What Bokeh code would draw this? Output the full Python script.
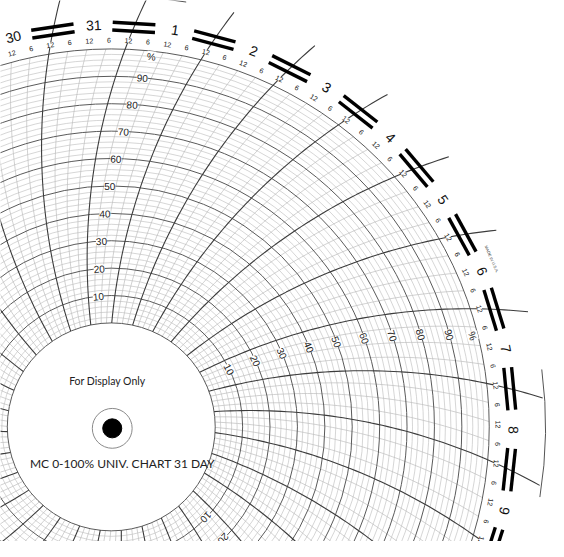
import numpy as np

from bokeh.plotting import figure
from bokeh.models import Range1d
from bokeh.core.properties import value
from bokeh.embed import file_html
from bokeh.resources import INLINE

# chart paper data
days = [31] + list(range(1, 31))          # clockwise from the top
hour_labels = ["12", "6", "12", "6"]       # midnight, 6, noon, 6
percent_ticks = [10, 20, 30, 40, 50, 60, 70, 80, 90]
scale_days = [31, 6, 12, 18, 24]           # days that carry a % scale
minor_pct = [p for p in range(2, 100, 2) if p % 10]
major_pct = list(range(0, 101, 10))

# geometry of the paper (reference pixels, centre of chart = 0,0)
R0, R100, ARM = 107.0, 389.0, 615.0
STEP = 360.0 / (len(days) * 4)
NOON0 = 87.9                              # angle of day-31 noon line at 100%
X0, X1, Y0, Y1 = -114, 450, -118, 439


def rad(p):
    return R0 + p / 100.0 * (R100 - R0)


def theta(r, th_out):
    # time lines are arcs swung by the pen arm
    return th_out + np.degrees(np.arccos(r / (2 * ARM)) - np.arccos(R100 / (2 * ARM)))


def pos_angle(j):
    return NOON0 - (j - 2) * STEP


p = figure(width=548, height=541, x_range=Range1d(X0, X1), y_range=Range1d(Y0, Y1),
           output_backend="svg", toolbar_location=None, min_border=0)
p.axis.visible = False
p.grid.visible = False
p.outline_line_color = None

# circles
p.circle(x=[0] * len(minor_pct), y=[0] * len(minor_pct), radius=[rad(v) for v in minor_pct],
         fill_color=None, line_color="#c4c4c4", line_width=0.7)

# time lines
lx, ly, dx, dy = [], [], [], []
for j in range(len(days) * 4):
    th_out = pos_angle(j)
    if j % 4 == 2:
        rr = np.linspace(R0, 445, 60)
    else:
        rr = np.linspace(R0, R100, 50)
    th = np.radians(theta(rr, th_out))
    if j % 4 == 2:
        dx.append(list(rr * np.cos(th)))
        dy.append(list(rr * np.sin(th)))
    else:
        lx.append(list(rr * np.cos(th)))
        ly.append(list(rr * np.sin(th)))
p.multi_line(lx, ly, line_color="#bdbdbd", line_width=0.7)

p.circle(x=[0] * len(major_pct), y=[0] * len(major_pct), radius=[rad(v) for v in major_pct],
         fill_color=None, line_color="#5a5a5a", line_width=1)
p.multi_line(dx, dy, line_color="#3c3c3c", line_width=1.1)

# outer guide arcs
p.arc(x=0, y=0, radius=444, start_angle=np.radians(80.0), end_angle=np.radians(97.2),
      line_color="#555555", line_width=1)
p.arc(x=0, y=0, radius=447, start_angle=np.radians(-9.3), end_angle=np.radians(7.6),
      line_color="#555555", line_width=1)

# double bars at every noon
bx0, by0, bx1, by1 = [], [], [], []
for d in range(len(days)):
    thc = np.radians(theta(412.0, pos_angle(d * 4 + 2)))
    tx, ty = -np.sin(thc) * 22, np.cos(thc) * 22
    for rr in (408.0, 416.0):
        cx, cy = rr * np.cos(thc), rr * np.sin(thc)
        bx0.append(cx - tx)
        by0.append(cy - ty)
        bx1.append(cx + tx)
        by1.append(cy + ty)
p.segment(bx0, by0, bx1, by1, line_color="black", line_width=3.4)

# hour labels round the rim
hx, hy, ha, ht = [], [], [], []
for j in range(len(days) * 4):
    th = theta(398.0, pos_angle(j))
    hx.append(398 * np.cos(np.radians(th)))
    hy.append(398 * np.sin(np.radians(th)))
    ha.append(np.radians(th - 90))
    ht.append(hour_labels[j % 4])
p.text(hx, hy, text=ht, angle=ha, text_align="center", text_baseline="middle",
       text_font=value("Liberation Sans"), text_font_size="7px", text_color="#111111",
       background_fill_color="white")

# day numbers
nx, ny, na = [], [], []
for d in range(len(days)):
    th = theta(414.0, pos_angle(d * 4))
    nx.append(414 * np.cos(np.radians(th)))
    ny.append(414 * np.sin(np.radians(th)))
    na.append(np.radians(th - 90))
p.text(nx, ny, text=[str(v) for v in days], angle=na, text_align="center",
       text_baseline="middle", text_font=value("Liberation Sans"), text_font_size="14px",
       text_color="#111111")

# percent scales
sx, sy, sa, st = [], [], [], []
for dd in scale_days:
    th_out = pos_angle(days.index(dd) * 4 + 2) - 1.5 * STEP
    for v in percent_ticks + [98]:
        rr = rad(v)
        th = theta(rr, th_out)
        sx.append(rr * np.cos(np.radians(th)))
        sy.append(rr * np.sin(np.radians(th)))
        sa.append(np.radians(th - 90))
        st.append(str(v) if v < 98 else "%")
p.text(sx, sy, text=st, angle=sa, text_align="center", text_baseline="middle",
       text_font=value("Liberation Sans"), text_font_size="10px", text_color="#222222",
       background_fill_color="white")

# small imprint
th = 23.8
p.text([428 * np.cos(np.radians(th))], [428 * np.sin(np.radians(th))], text=["MADE IN U.S.A."],
       angle=[np.radians(th - 90)], text_align="center", text_baseline="middle",
       text_font=value("Liberation Sans"), text_font_size="4px", text_color="#333333")

# centre
p.circle(x=[1], y=[-1.5], radius=[20.5], fill_color=None, line_color="#8a8a8a", line_width=1)
p.circle(x=[1], y=[-1.5], radius=[9.8], fill_color="black", line_color="black")
p.text([-4], [47], text=["For Display Only"], text_align="center", text_baseline="middle",
       text_font=value("Lato"), text_font_size="10.5px", text_color="#222222")
p.text([11.5], [-37.5], text=["MC 0-100% UNIV. CHART 31 DAY"], text_align="center",
       text_baseline="middle", text_font=value("Lato"), text_font_size="12px",
       text_color="#222222")

open("out.html", "w").write(file_html(p, INLINE))
